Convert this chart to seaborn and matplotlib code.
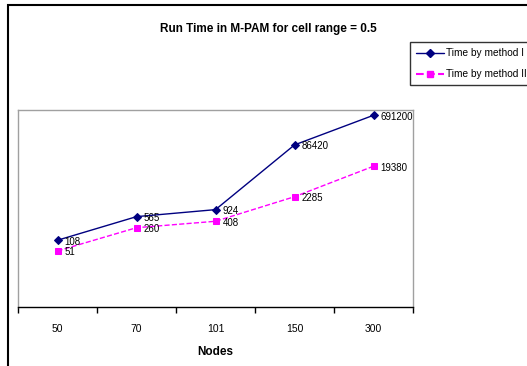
import matplotlib
matplotlib.use("Agg")
import matplotlib.pyplot as plt
import seaborn as sns
import pandas as pd
from matplotlib.patches import Rectangle
from matplotlib.lines import Line2D
from matplotlib.ticker import FixedLocator, NullLocator

nodes = ["50", "70", "101", "150", "300"]
method1 = [108, 565, 924, 86420, 691200]
method2 = [51, 260, 408, 2285, 19380]
series_names = ["Time by method I", "Time by method II"]
title = "Run Time in M-PAM for cell range = 0.5"
xlabel = "Nodes"

sns.set_theme(style="white")
plt.rcParams["font.family"] = ["Liberation Sans", "DejaVu Sans"]
plt.rcParams["text.color"] = "black"
plt.rcParams["axes.labelcolor"] = "black"
plt.rcParams["xtick.color"] = "black"

df = pd.DataFrame({
    "Nodes": nodes * 2,
    "Time": method1 + method2,
    "Series": [series_names[0]] * len(nodes) + [series_names[1]] * len(nodes),
})

fig = plt.figure(figsize=(5.27, 3.66), dpi=100)
ax = fig.add_axes([18/527, 1 - 307/366, (413-18)/527, (307-110)/366])

palette = {series_names[0]: "#000080", series_names[1]: "#FF00FF"}
sns.pointplot(data=df, x="Nodes", y="Time", hue="Series", order=nodes,
              hue_order=series_names, palette=palette, markers=["D", "s"],
              linestyles=["-", "--"], errorbar=None, ax=ax,
              markersize=4, linewidth=1, legend=False)
ax.set_yscale("log")
ax.set_ylim(1, 1e6)
ax.set_xlim(-0.5, len(nodes) - 0.5)
ax.yaxis.set_major_locator(NullLocator())
ax.yaxis.set_minor_locator(NullLocator())
ax.set_ylabel("")
ax.grid(False)

ax.set_xticks(range(len(nodes)))
ax.set_xticklabels(nodes, fontsize=7.5, color="black")
ax.tick_params(axis="x", which="major", length=0, pad=12)
ax.xaxis.set_minor_locator(FixedLocator([i - 0.5 for i in range(len(nodes) + 1)]))
ax.tick_params(axis="x", which="minor", length=4, width=1, color="black",
               direction="out", bottom=True)
ax.set_xlabel(xlabel, fontsize=8.5, fontweight="bold", labelpad=9, color="black")

for s in ["left", "top", "right"]:
    ax.spines[s].set_color("#A0A0A0")
    ax.spines[s].set_linewidth(1)
ax.spines["bottom"].set_color("black")
ax.spines["bottom"].set_linewidth(1)

for vals in (method1, method2):
    for i, v in enumerate(vals):
        ax.annotate(str(v), (i, v), xytext=(5, -1), textcoords="offset points",
                    ha="left", va="center", fontsize=7, color="black")

fig.text(268/527, 1 - 29/366, title, ha="center", va="center",
         fontsize=8.5, fontweight="bold", color="black")

handles = [
    Line2D([], [], color="#000080", marker="D", markersize=4, linestyle="-", linewidth=1),
    Line2D([], [], color="#FF00FF", marker="s", markersize=4, linestyle="--", linewidth=1.5),
]
leg = fig.legend(handles, series_names, loc="upper left",
                 bbox_to_anchor=(410/527, 1 - 42/366), fontsize=7.3,
                 frameon=True, fancybox=False, shadow=False,
                 handlelength=2.8, handletextpad=0.15, borderpad=0.6,
                 labelspacing=1.1, borderaxespad=0)
leg.get_frame().set_edgecolor("black")
leg.get_frame().set_linewidth(1)
for t in leg.get_texts():
    t.set_color("black")

fig.patches.append(Rectangle((8/527, -0.2), 1.2, 1.2 - 5/366,
                             transform=fig.transFigure, fill=False,
                             edgecolor="black", linewidth=1.5, zorder=-1))

fig.savefig("out.png", dpi=100)
